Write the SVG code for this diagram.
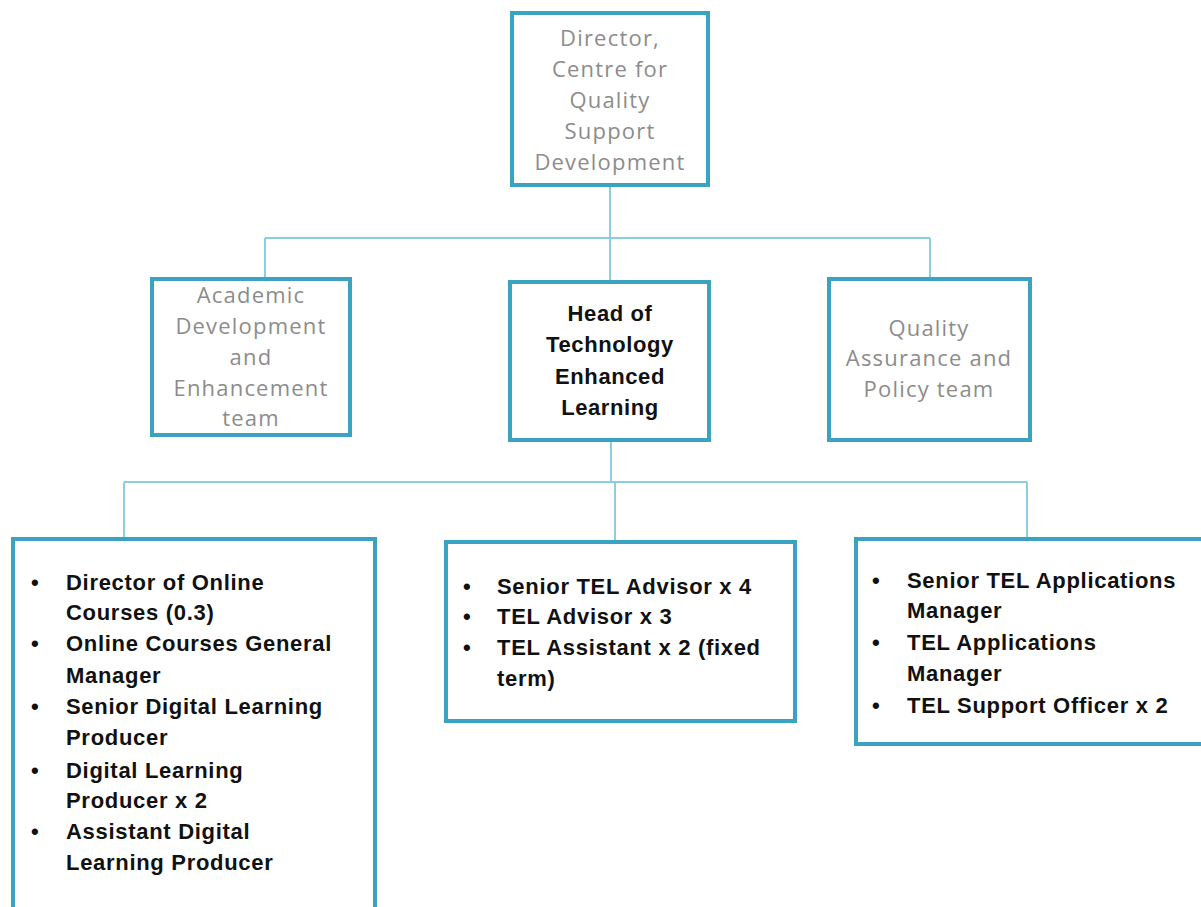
<svg xmlns="http://www.w3.org/2000/svg" width="1201" height="907" viewBox="0 0 1201 907">
<style>
.box{fill:#fff;stroke:#3aa3c2;stroke-width:4}
.conn{fill:none;stroke:#8acfdf;stroke-width:2}
.g{font-family:"Open Sans",sans-serif;font-size:22px;letter-spacing:1.2px;fill:#8c8c8c;text-anchor:middle}
.h{font-family:"Liberation Sans",sans-serif;font-weight:bold;font-size:22px;letter-spacing:0.6px;fill:#111;text-anchor:middle}
.b{font-family:"Liberation Sans",sans-serif;font-weight:bold;font-size:22px;letter-spacing:0.7px;fill:#111}
</style>
<rect width="1201" height="907" fill="#fff"/>
<g id="connectors">
<path class="conn" d="M610 185V238M265 238H930M265 238V278M610 238V281M930 238V278"/>
<path class="conn" d="M611 441V482M124 482H1027M124 482V538M615 482V541M1027 482V538"/>
</g>
<g id="director">
<rect class="box" x="512" y="13" width="196" height="172"/>
<text class="g"><tspan x="610" y="46">Director,</tspan><tspan x="610" y="77">Centre for</tspan><tspan x="610" y="108">Quality</tspan><tspan x="610" y="139">Support</tspan><tspan x="610" y="170">Development</tspan></text>
</g>
<g id="academic">
<rect class="box" x="152" y="279" width="198" height="156"/>
<text class="g"><tspan x="251" y="303">Academic</tspan><tspan x="251" y="334">Development</tspan><tspan x="251" y="365">and</tspan><tspan x="251" y="396">Enhancement</tspan><tspan x="251" y="426">team</tspan></text>
</g>
<g id="head">
<rect class="box" x="510" y="282" width="199" height="158"/>
<text class="h"><tspan x="610" y="321">Head of</tspan><tspan x="610" y="352">Technology</tspan><tspan x="610" y="384">Enhanced</tspan><tspan x="610" y="415">Learning</tspan></text>
</g>
<g id="quality">
<rect class="box" x="829" y="279" width="201" height="161"/>
<text class="g"><tspan x="929" y="336">Quality</tspan><tspan x="929" y="366">Assurance and</tspan><tspan x="929" y="397">Policy team</tspan></text>
</g>
<g id="online">
<rect class="box" x="13" y="539" width="362" height="372"/>
<text class="b"><tspan x="31" y="590">•</tspan><tspan x="66" y="590">Director of Online</tspan><tspan x="66" y="620">Courses (0.3)</tspan><tspan x="31" y="651">•</tspan><tspan x="66" y="651">Online Courses General</tspan><tspan x="66" y="683">Manager</tspan><tspan x="31" y="714">•</tspan><tspan x="66" y="714">Senior Digital Learning</tspan><tspan x="66" y="745">Producer</tspan><tspan x="31" y="778">•</tspan><tspan x="66" y="778">Digital Learning</tspan><tspan x="66" y="808">Producer x 2</tspan><tspan x="31" y="839">•</tspan><tspan x="66" y="839">Assistant Digital</tspan><tspan x="66" y="870">Learning Producer</tspan></text>
</g>
<g id="advisors">
<rect class="box" x="446" y="542" width="349" height="179"/>
<text class="b"><tspan x="463" y="594">•</tspan><tspan x="497" y="594">Senior TEL Advisor x 4</tspan><tspan x="463" y="624">•</tspan><tspan x="497" y="624">TEL Advisor x 3</tspan><tspan x="463" y="655">•</tspan><tspan x="497" y="655">TEL Assistant x 2 (fixed</tspan><tspan x="497" y="686">term)</tspan></text>
</g>
<g id="applications">
<rect class="box" x="856" y="539" width="347" height="205"/>
<text class="b"><tspan x="872" y="588">•</tspan><tspan x="907" y="588">Senior TEL Applications</tspan><tspan x="907" y="618">Manager</tspan><tspan x="872" y="650">•</tspan><tspan x="907" y="650">TEL Applications</tspan><tspan x="907" y="681">Manager</tspan><tspan x="872" y="713">•</tspan><tspan x="907" y="713">TEL Support Officer x 2</tspan></text>
</g>
</svg>
